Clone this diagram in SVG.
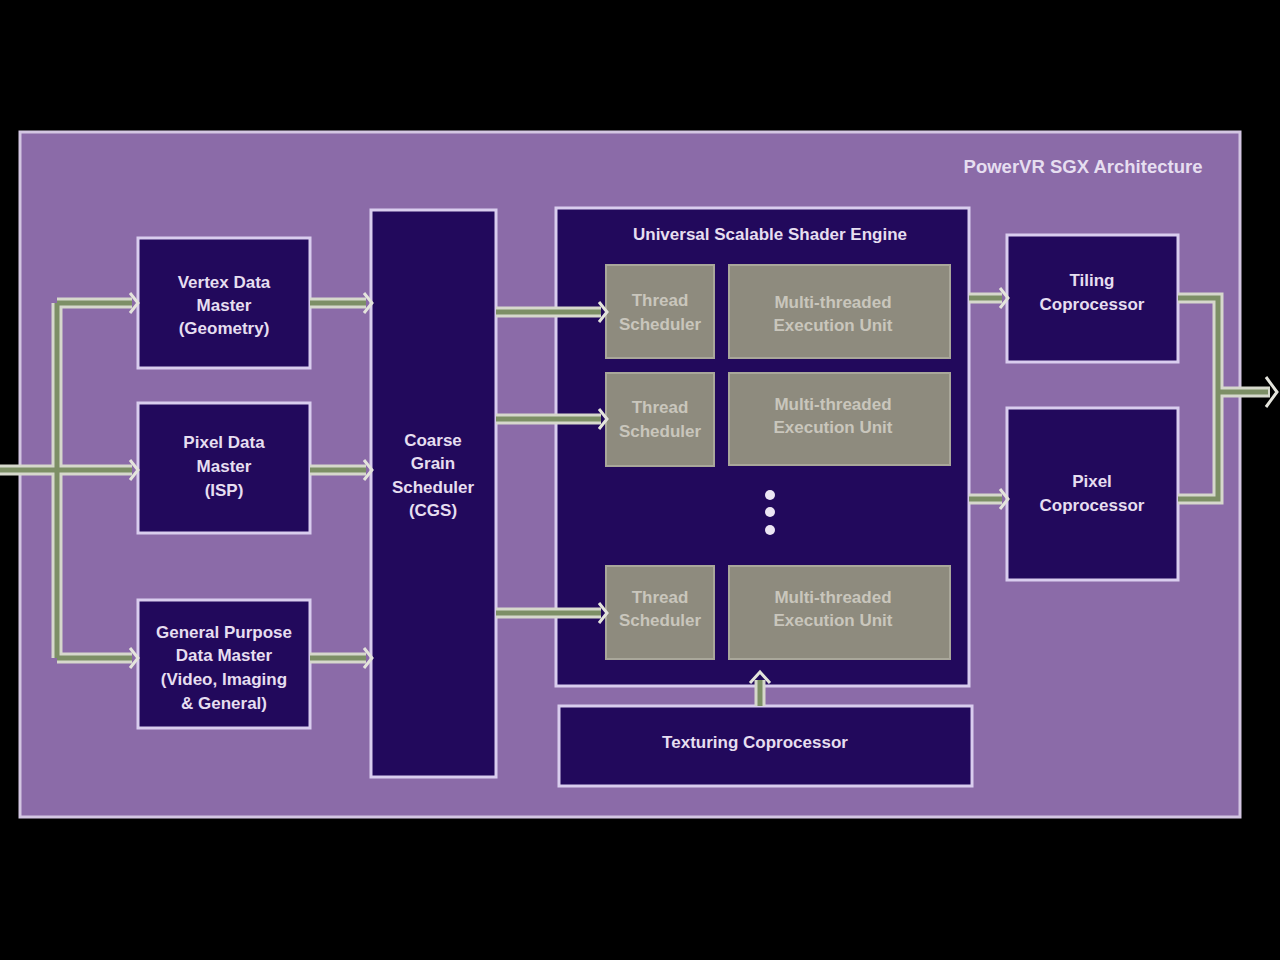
<svg xmlns="http://www.w3.org/2000/svg" width="1280" height="960" viewBox="0 0 1280 960">
<defs>
<style>
.box{fill:#22095c;stroke:#d9cdee;stroke-width:3}
.gray{fill:#8e8b7e;stroke:#a9a79a;stroke-width:2}
.t{font-family:"Liberation Sans",Arial,sans-serif;font-weight:bold;font-size:17px;fill:#e6def0;text-anchor:middle}
.tg{font-family:"Liberation Sans",Arial,sans-serif;font-weight:bold;font-size:17px;fill:#c9c6bc;text-anchor:middle}
.po{fill:none;stroke:#d6d8cc;stroke-width:11;stroke-linejoin:miter}
.pi{fill:none;stroke:#7d8f66;stroke-width:5;stroke-linejoin:miter}
.ah{fill:none;stroke:#e4e4dc;stroke-width:3;stroke-linejoin:miter}
</style>
</defs>
<rect x="0" y="0" width="1280" height="960" fill="#000"/>
<rect id="panel" x="20" y="132" width="1220" height="685" fill="#8b6ba8" stroke="#d3c6e2" stroke-width="3"/>
<text class="t" x="1083" y="173" style="font-size:18.5px">PowerVR SGX Architecture</text>

<g id="vertex-data-master">
<rect class="box" x="138" y="238" width="172" height="130"/>
<text class="t" x="224" y="288">Vertex Data</text>
<text class="t" x="224" y="311">Master</text>
<text class="t" x="224" y="334">(Geometry)</text>
</g>
<g id="pixel-data-master">
<rect class="box" x="138" y="403" width="172" height="130"/>
<text class="t" x="224" y="448">Pixel Data</text>
<text class="t" x="224" y="472">Master</text>
<text class="t" x="224" y="496">(ISP)</text>
</g>
<g id="general-purpose-data-master">
<rect class="box" x="138" y="600" width="172" height="128"/>
<text class="t" x="224" y="638">General Purpose</text>
<text class="t" x="224" y="661">Data Master</text>
<text class="t" x="224" y="685">(Video, Imaging</text>
<text class="t" x="224" y="709">&amp; General)</text>
</g>
<g id="cgs">
<rect class="box" x="371" y="210" width="125" height="567"/>
<text class="t" x="433" y="446">Coarse</text>
<text class="t" x="433" y="469">Grain</text>
<text class="t" x="433" y="493">Scheduler</text>
<text class="t" x="433" y="516">(CGS)</text>
</g>
<g id="usse">
<rect class="box" x="556" y="208" width="413" height="478"/>
<text class="t" x="770" y="240">Universal Scalable Shader Engine</text>
<circle cx="770" cy="495" r="5" fill="#ece6f4"/>
<circle cx="770" cy="512" r="5" fill="#ece6f4"/>
<circle cx="770" cy="530" r="5" fill="#ece6f4"/>
</g>
<g id="thread-scheduler-1">
<rect class="gray" x="606" y="265" width="108" height="93"/>
<text class="tg" x="660" y="306">Thread</text>
<text class="tg" x="660" y="330">Scheduler</text>
</g>
<g id="execution-unit-1">
<rect class="gray" x="729" y="265" width="221" height="93"/>
<text class="tg" x="833" y="308">Multi-threaded</text>
<text class="tg" x="833" y="331">Execution Unit</text>
</g>
<g id="thread-scheduler-2">
<rect class="gray" x="606" y="373" width="108" height="93"/>
<text class="tg" x="660" y="413">Thread</text>
<text class="tg" x="660" y="437">Scheduler</text>
</g>
<g id="execution-unit-2">
<rect class="gray" x="729" y="373" width="221" height="92"/>
<text class="tg" x="833" y="410">Multi-threaded</text>
<text class="tg" x="833" y="433">Execution Unit</text>
</g>
<g id="thread-scheduler-3">
<rect class="gray" x="606" y="566" width="108" height="93"/>
<text class="tg" x="660" y="603">Thread</text>
<text class="tg" x="660" y="626">Scheduler</text>
</g>
<g id="execution-unit-3">
<rect class="gray" x="729" y="566" width="221" height="93"/>
<text class="tg" x="833" y="603">Multi-threaded</text>
<text class="tg" x="833" y="626">Execution Unit</text>
</g>
<g id="texturing-coprocessor">
<rect class="box" x="559" y="706" width="413" height="80"/>
<text class="t" x="755" y="748">Texturing Coprocessor</text>
</g>
<g id="tiling-coprocessor">
<rect class="box" x="1007" y="235" width="171" height="127"/>
<text class="t" x="1092" y="286">Tiling</text>
<text class="t" x="1092" y="310">Coprocessor</text>
</g>
<g id="pixel-coprocessor">
<rect class="box" x="1007" y="408" width="171" height="172"/>
<text class="t" x="1092" y="487">Pixel</text>
<text class="t" x="1092" y="511">Coprocessor</text>
</g>

<g id="connectors">
<path class="po" d="M0,470 H57 M57,303 V658 M57,303 H132 M57,470 H132 M57,658 H132"/>
<path class="po" d="M310,303 H366 M310,470 H366 M310,658 H366"/>
<path class="po" d="M496,312 H601 M496,419 H601 M496,613 H601"/>
<path class="po" d="M969,298 H1002 M969,499 H1002"/>
<path class="po" d="M1178,298 H1218 V499 H1178 M1218,392 H1270"/>
<path class="po" d="M760,706 V680"/>
<path class="pi" d="M0,470 H57 M57,303 V658 M57,303 H132 M57,470 H132 M57,658 H132"/>
<path class="pi" d="M310,303 H366 M310,470 H366 M310,658 H366"/>
<path class="pi" d="M496,312 H601 M496,419 H601 M496,613 H601"/>
<path class="pi" d="M969,298 H1002 M969,499 H1002"/>
<path class="pi" d="M1178,298 H1218 V499 H1178 M1218,392 H1268"/>
<path class="pi" d="M760,706 V680"/>
<g class="ah">
<path d="M130,293 L138,303 L130,313"/>
<path d="M130,460 L138,470 L130,480"/>
<path d="M130,648 L138,658 L130,668"/>
<path d="M364,293 L372,303 L364,313"/>
<path d="M364,460 L372,470 L364,480"/>
<path d="M364,648 L372,658 L364,668"/>
<path d="M599,302 L607,312 L599,322"/>
<path d="M599,409 L607,419 L599,429"/>
<path d="M599,603 L607,613 L599,623"/>
<path d="M1000,288 L1008,298 L1000,308"/>
<path d="M1000,489 L1008,499 L1000,509"/>
<path d="M1266,377 L1277,392 L1266,407"/>
<path d="M750,683 L760,672 L770,683"/>
</g>
</g>
</svg>
